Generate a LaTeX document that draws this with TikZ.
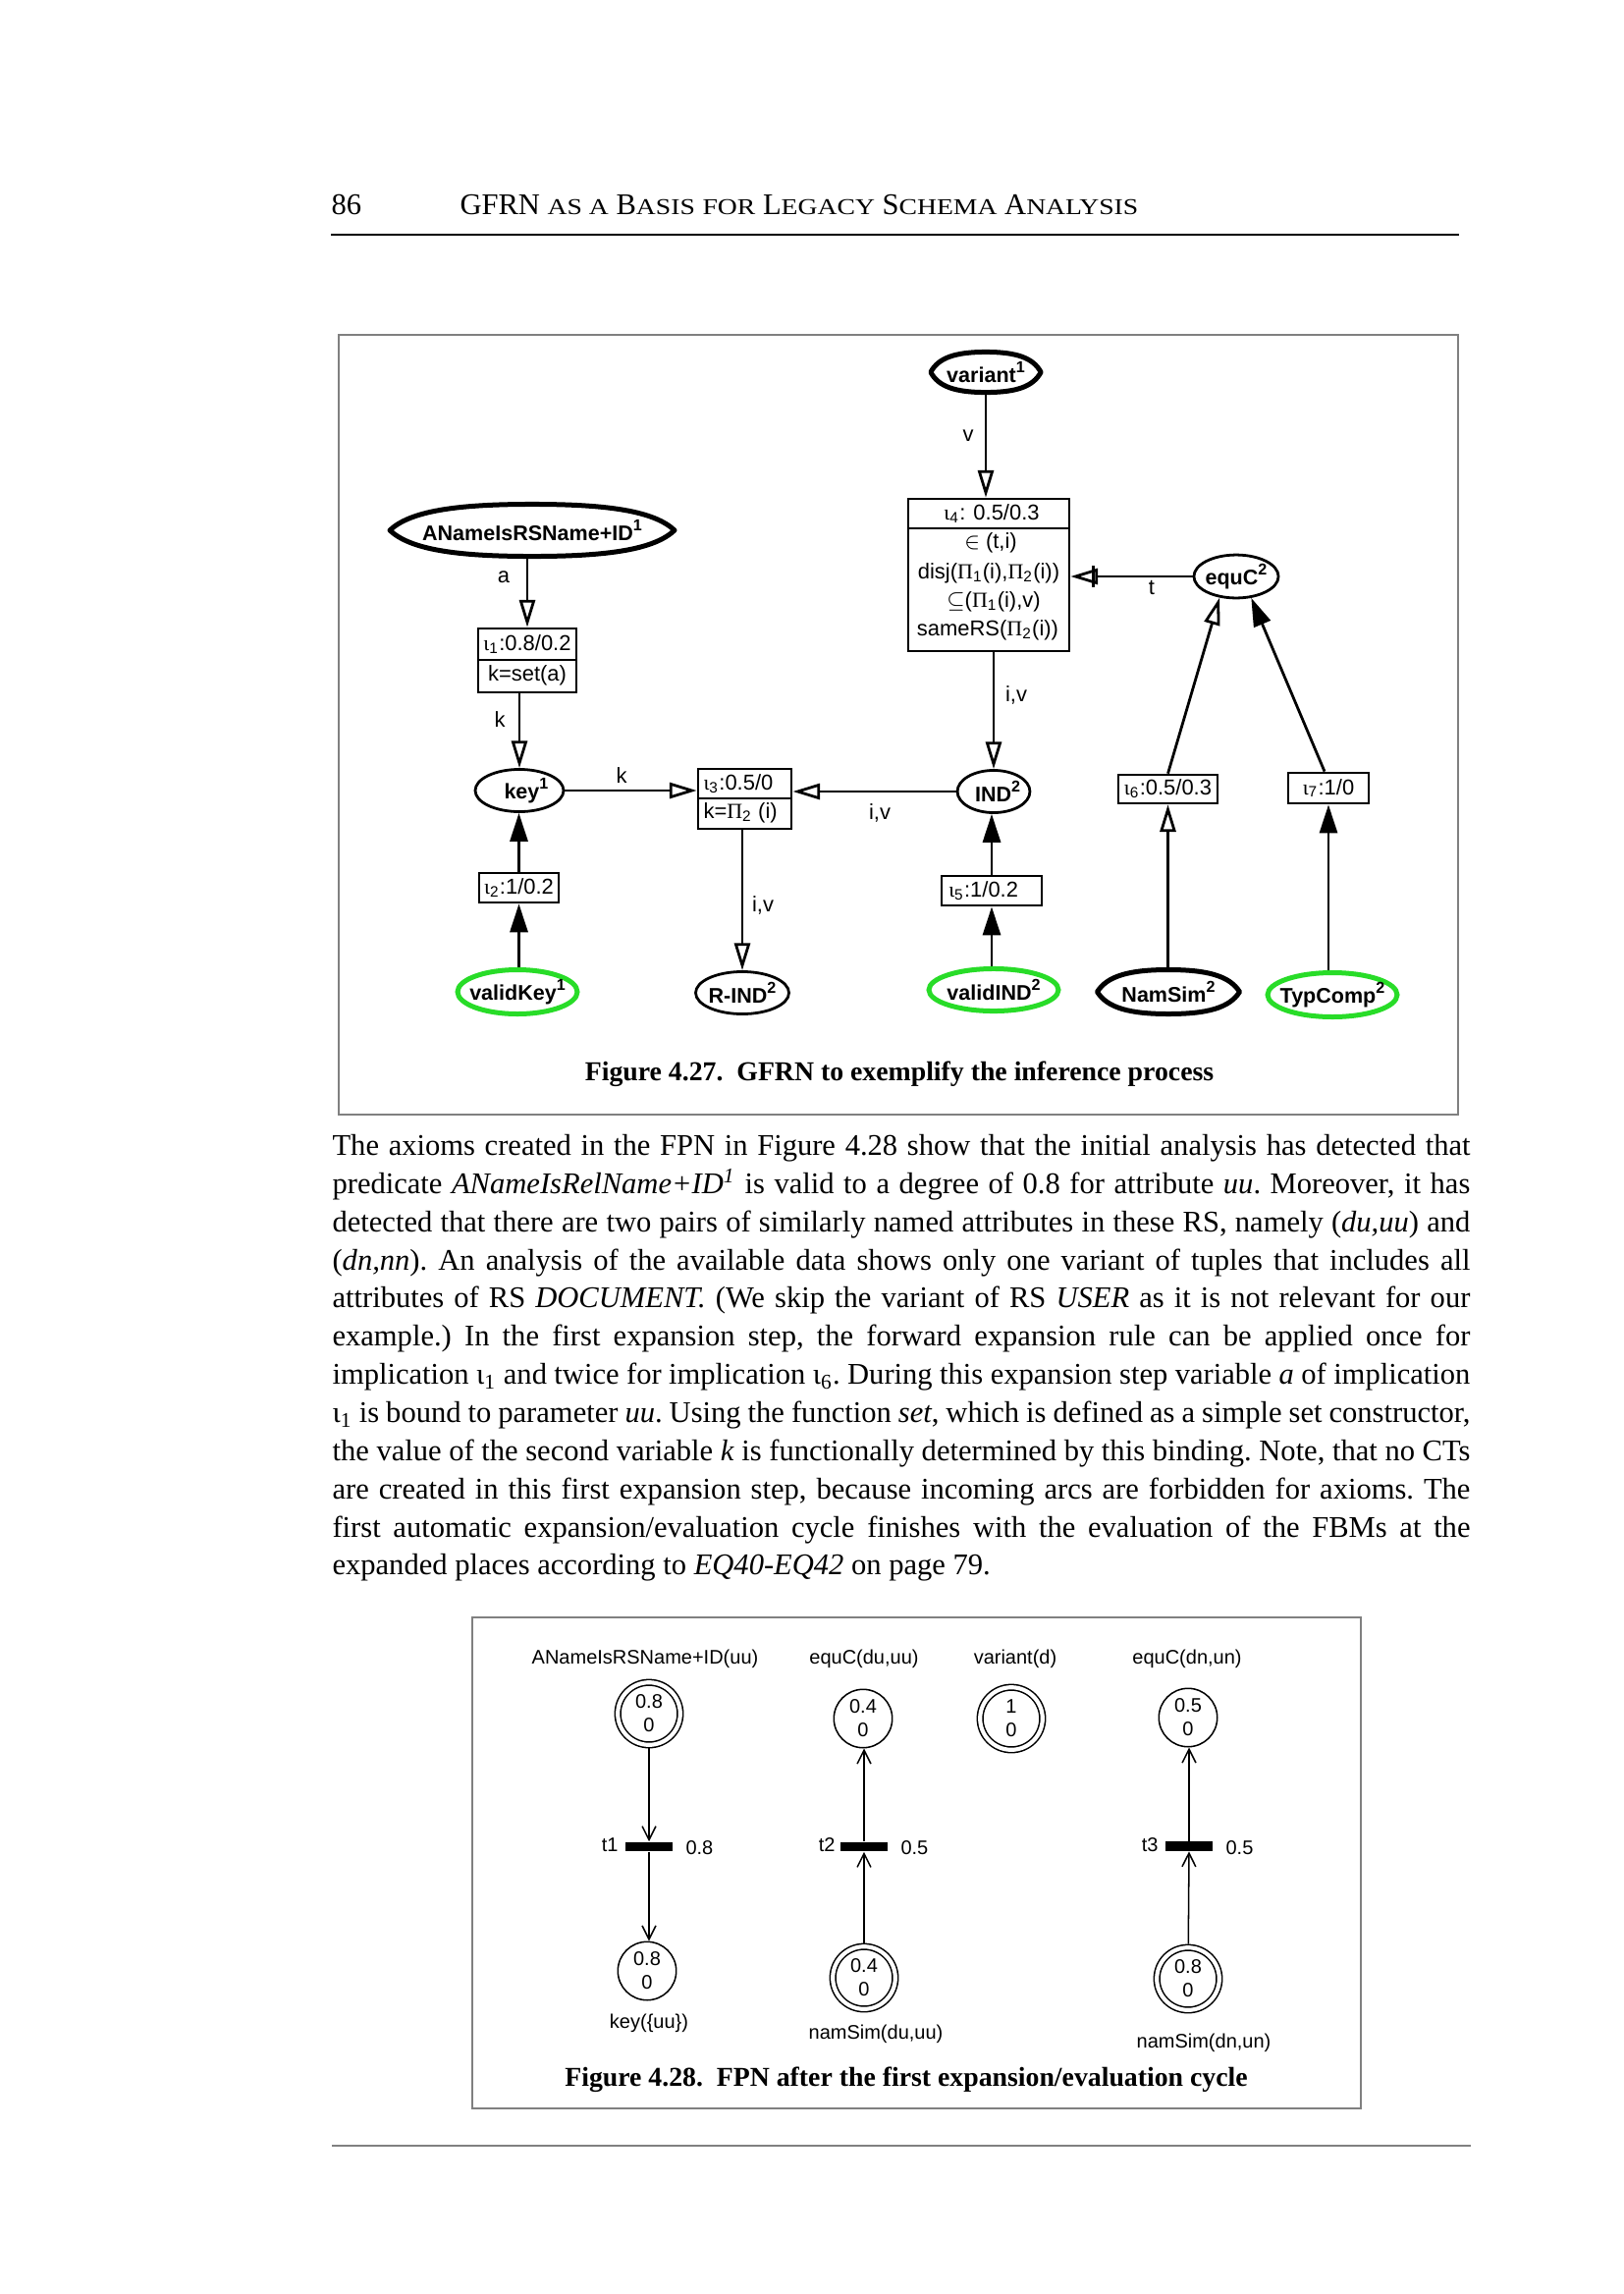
\documentclass[tikz,border=0pt]{standalone}
\usepackage{fontspec}
\setmainfont{Liberation Serif}
\newfontfamily\hv{Liberation Sans}
\newfontfamily\grk{Liberation Serif}
\newfontfamily\scf[FakeStretch=1.2]{Liberation Serif}
\usetikzlibrary{arrows.meta,calc,shapes.geometric}
\definecolor{frgray}{RGB}{128,128,128}
\definecolor{lime}{RGB}{40,220,40}
\newcommand\sm[1]{{\scf\fontsize{8.3}{10}\selectfont #1}}
\newcommand\io[1]{{\grk ι}\textsubscript{#1}}
\newcommand\Pio{{\grk Π}}
\newcommand\nsup[1]{\raisebox{0.85ex}{\fontsize{5.8}{6}\selectfont #1}}
\newcommand\axiomoutline[1]{%
 \draw[axline] let \p1=(#1.center), \p2=(#1.east), \p3=(#1.north), \n1={\x2-\x1}, \n2={\y3-\y1} in
 ({\x1-\n1},\y1) .. controls ({\x1-0.86*\n1},{\y1+0.72*\n2}) and ({\x1-0.55*\n1},{\y1+\n2}) .. (\x1,{\y1+\n2})
 .. controls ({\x1+0.55*\n1},{\y1+\n2}) and ({\x1+0.86*\n1},{\y1+0.72*\n2}) .. ({\x1+\n1},\y1)
 .. controls ({\x1+0.86*\n1},{\y1-0.72*\n2}) and ({\x1+0.55*\n1},{\y1-\n2}) .. (\x1,{\y1-\n2})
 .. controls ({\x1-0.55*\n1},{\y1-\n2}) and ({\x1-0.86*\n1},{\y1-0.72*\n2}) .. ({\x1-\n1},\y1) -- cycle;}
\tikzset{
 dtext/.style={font=\hv\fontsize{7.9}{10.7}\selectfont, inner sep=0pt},
 dbold/.style={font=\hv\bfseries\fontsize{7.75}{10.7}\selectfont},
 ibox/.style={draw, line width=1pt, rectangle, inner sep=0pt, dtext},
 divider/.style={line width=0.7pt},
 place/.style={ellipse, draw, line width=1pt, inner sep=0pt, dbold},
 axiom/.style={ellipse, draw=none, inner sep=0pt, dbold},
 valid/.style={ellipse, draw=lime, line width=1.8pt, inner sep=0pt, dbold},
 axline/.style={line width=1.8pt, line join=round},
 hol/.style={line width=1pt, -{Triangle[open,length=10pt,width=5.8pt]}},
 ful/.style={line width=1pt, -{Triangle[length=10.4pt,width=6.5pt]}},
 ftext/.style={font=\hv\fontsize{7.2}{8.6}\selectfont, inner sep=0pt},
 splace/.style={circle, draw, line width=0.55pt, minimum size=21.4pt, inner sep=0pt, align=center, ftext},
 dplace/.style={splace, double, double distance=1.5pt, minimum size=22.9pt, outer sep=1.3pt},
 trans/.style={rectangle, fill=black, minimum width=17.6pt, minimum height=3.4pt, inner sep=0pt},
 fpnarc/.style={line width=0.55pt, -{Straight Barb[length=5pt,width=5pt]}},
 frame/.style={draw=frgray, line width=1pt},
 caption/.style={font=\bfseries\fontsize{10}{12}\selectfont, inner sep=0pt},
 body/.style={anchor=base west, inner sep=0pt, font=\frenchspacing\fontsize{11}{14}\selectfont},
 head/.style={anchor=base west, inner sep=0pt, font=\fontsize{11}{13}\selectfont}
}
\begin{document}
\begin{tikzpicture}[x=0.36pt,y=-0.36pt]
\useasboundingbox (0,0) rectangle (1653,2336);
\fill[white] (0,0) rectangle (1653,2336);

% ---------- running head ----------
\node[head] (pgno) at (337,218.5) {86};
\node[head] (runhead) at (468,218.5) {GFRN \sm{AS A} B\sm{ASIS} \sm{FOR} L\sm{EGACY} S\sm{CHEMA} A\sm{NALYSIS}};
\coordinate (hrA) at (337,239);
\coordinate (hrB) at (1486,239);
\draw[line width=0.75pt] (hrA) -- (hrB);

% ---------- Figure 4.27 ----------
\draw[frame] (345,341) rectangle (1485,1135);

% axioms (thick outlines)
\node[axiom, minimum width=104pt, minimum height=18.7pt] (an) at (542,540) {\makebox[0pt]{ANameIsRSName+ID\nsup{1}}};
\axiomoutline{an}
\node[axiom, minimum width=40pt, minimum height=14.4pt] (variant) at (1004,379) {\makebox[0pt]{variant\nsup{1}}};
\axiomoutline{variant}
\node[axiom, minimum width=51.8pt, minimum height=15.8pt] (namsim) at (1190,1010) {\makebox[0pt]{NamSim\nsup{2}}};
\axiomoutline{namsim}

% ordinary places
\node[place, minimum width=32.4pt, minimum height=15.5pt] (key) at (529,805) {\makebox[0pt]{\hspace*{5pt}key\nsup{1}}};
\node[place, minimum width=26.6pt, minimum height=15.5pt] (ind) at (1012,806) {\makebox[0pt]{\hspace*{3pt}IND\nsup{2}}};
\node[place, minimum width=31pt, minimum height=15.8pt] (equc) at (1259,587) {\makebox[0pt]{equC\nsup{2}}};
\node[place, minimum width=34.2pt, minimum height=15.5pt] (rind) at (756,1011) {\makebox[0pt]{R-IND\nsup{2}}};

% green places
\node[valid, minimum width=43.9pt, minimum height=16.2pt] (vkey) at (527,1010) {\makebox[0pt]{validKey\nsup{1}}};
\node[valid, minimum width=47.5pt, minimum height=15.5pt] (vind) at (1012,1008) {\makebox[0pt]{validIND\nsup{2}}};
\node[valid, minimum width=47.5pt, minimum height=16.2pt] (typ) at (1357,1013) {\makebox[0pt]{TypComp\nsup{2}}};

% implication boxes
\node[ibox, minimum width=59pt, minimum height=55.8pt] (i4) at (1007,585.5) {};
\coordinate (d4) at (1007,538);
\draw[divider] (i4.west |- d4) -- (i4.east |- d4);
\node[dtext] (i4a) at (1010,523) {\io{4}: 0.5/0.3};
\node[dtext] (i4b) at (1009,553) {$\in$ (t,i)};
\node[dtext] (i4c) at (1007,584) {disj(\Pio\textsubscript{1}(i),\Pio\textsubscript{2}(i))};
\node[dtext] (i4d) at (1012,613) {$\subseteq$(\Pio\textsubscript{1}(i),v)};
\node[dtext] (i4e) at (1006,642) {sameRS(\Pio\textsubscript{2}(i))};

\node[ibox, minimum width=36pt, minimum height=23.4pt] (i1) at (537,672.5) {};
\coordinate (d1) at (537,672);
\draw[divider] (i1.west |- d1) -- (i1.east |- d1);
\node[dtext] (i1a) at (537,656) {\io{1}:0.8/0.2};
\node[dtext] (i1b) at (537,688) {k=set(a)};

\node[ibox, minimum width=34.2pt, minimum height=22pt] (i3) at (758.5,813.5) {};
\coordinate (d3) at (758,813);
\draw[divider] (i3.west |- d3) -- (i3.east |- d3);
\node[dtext, anchor=west] (i3a) at (716,798) {\io{3}:0.5/0};
\node[dtext, anchor=west] (i3b) at (716,828) {k=\Pio\textsubscript{2} (i)};

\node[ibox, minimum width=29.2pt, minimum height=10.8pt] (i2) at (528.5,904) {\io{2}:1/0.2};
\node[ibox, minimum width=36.7pt, minimum height=10.8pt] (i5) at (1010,907) {\io{5}:1/0.2\hspace*{6pt}};
\node[ibox, minimum width=36.4pt, minimum height=10.4pt] (i6) at (1189.5,803.5) {\io{6}:0.5/0.3};
\node[ibox, minimum width=29.5pt, minimum height=11.2pt] (i7) at (1353,802.5) {\io{7}:1/0};

% connectors
\draw[hol] (variant.south) -- (variant.south |- i4.north);
\draw[hol] (i1.north |- an.south) -- (i1.north);
\draw[hol] (key.north |- i1.south) -- (key.north);
\draw[hol] (key.east) -- (key.east -| i3.west);
\draw[hol] (ind.west) -- (ind.west -| i3.east);
\draw[hol] (rind.north |- i3.south) -- (rind.north);
\draw[hol] (ind.north |- i4.south) -- (ind.north);
\draw[hol] (equc.west) -- (equc.west -| i4.east);
\coordinate (barc) at ($(equc.west -| i4.east)+(23,0)$);
\draw[line width=1pt] ($(barc)+(0,-11)$) -- ($(barc)+(0,11)$);
\draw[ful] (i2.south |- vkey.north) -- (i2.south);
\draw[ful] (i2.north) -- (i2.north |- key.south);
\draw[ful] (i5.south |- vind.north) -- (i5.south);
\draw[ful] (i5.north) -- (i5.north |- ind.south);
\draw[hol] (i6.south |- namsim.north) -- (i6.south);
\draw[hol] (i6.north) -- (equc.232);
\draw[ful] (i7.south |- typ.north) -- (i7.south);
\coordinate (i7top) at ($(i7.north)+(-4,0)$);
\draw[ful] (i7top) -- (equc.305);

% arc labels
\node[dtext] (lv) at (986,444) {v};
\node[dtext] (la) at (513,588) {a};
\node[dtext] (lk1) at (509,733) {k};
\node[dtext] (lk2) at (633,790) {k};
\node[dtext] (liv1) at (896,828) {i,v};
\node[dtext] (liv2) at (777,922) {i,v};
\node[dtext] (liv3) at (1035,708) {i,v};
\node[dtext] (lt) at (1173,598) {t};

\node[caption] (cap27) at (916,1093.5) {Figure 4.27.\enspace GFRN to exemplify the inference process};

% ---------- body text ----------
\node[body] (l1) at (338,1176.5) {\makebox[417.2pt][s]{The axioms created in the FPN in Figure 4.28 show that the initial analysis has detected that}};
\node[body] (l2) at (338,1215.35) {\makebox[417.2pt][s]{predicate \textit{ANameIsRelName+ID}\textsuperscript{\textit{1}} is valid to a degree of 0.8 for attribute \textit{uu}. Moreover, it has}};
\node[body] (l3) at (338,1254.2) {\makebox[417.2pt][s]{detected that there are two pairs of similarly named attributes in these RS, namely (\textit{du,uu}) and}};
\node[body] (l4) at (338,1293.05) {\makebox[417.2pt][s]{(\textit{dn,nn}). An analysis of the available data shows only one variant of tuples that includes all}};
\node[body] (l5) at (338,1331.9) {\makebox[417.2pt][s]{attributes of RS \textit{DOCUMENT.} (We skip the variant of RS \textit{USER} as it is not relevant for our}};
\node[body] (l6) at (338,1370.75) {\makebox[417.2pt][s]{example.) In the first expansion step, the forward expansion rule can be applied once for}};
\node[body] (l7) at (338,1409.6) {\makebox[417.2pt][s]{implication ι\textsubscript{1} and twice for implication ι\textsubscript{6}. During this expansion step variable \textit{a} of implication}};
\node[body] (l8) at (338,1448.45) {\makebox[417.2pt][s]{ι\textsubscript{1} is bound to parameter \textit{uu}. Using the function \textit{set}, which is defined as a simple set constructor,}};
\node[body] (l9) at (338,1487.3) {\makebox[417.2pt][s]{the value of the second variable \textit{k} is functionally determined by this binding. Note, that no CTs}};
\node[body] (l10) at (338,1526.15) {\makebox[417.2pt][s]{are created in this first expansion step, because incoming arcs are forbidden for axioms. The}};
\node[body] (l11) at (338,1565) {\makebox[417.2pt][s]{first automatic expansion/evaluation cycle finishes with the evaluation of the FBMs at the}};
\node[body] (l12) at (338,1603.85) {expanded places according to \textit{EQ40-EQ42} on page 79.};

% ---------- Figure 4.28 ----------
\draw[frame] (481,1647) rectangle (1386,2147);

\node[ftext] (n1) at (657,1689) {ANameIsRSName+ID(uu)};
\node[ftext] (n2) at (880,1689) {equC(du,uu)};
\node[ftext] (n3) at (1034,1689) {variant(d)};
\node[ftext] (n4) at (1209,1689) {equC(dn,un)};

\node[dplace] (p1) at (661,1745) {0.8\\0};
\node[splace] (p2) at (879,1750) {0.4\\0};
\node[dplace] (p3) at (1030,1750) {1\\0};
\node[splace] (p4) at (1210,1749) {0.5\\0};
\node[splace] (p5) at (659,2007) {0.8\\0};
\node[dplace] (p6) at (880,2014) {0.4\\0};
\node[dplace] (p7) at (1210,2015) {0.8\\0};

\node[trans] (t1) at (661,1880.5) {};
\node[trans] (t2) at (880,1880.5) {};
\node[trans] (t3) at (1211,1880) {};

\node[ftext, anchor=east] (t1l) at (630,1879) {t1};
\node[ftext, anchor=west] (t1v) at (698,1882) {0.8};
\node[ftext, anchor=east] (t2l) at (851,1879) {t2};
\node[ftext, anchor=west] (t2v) at (917,1882) {0.5};
\node[ftext, anchor=east] (t3l) at (1180,1879) {t3};
\node[ftext, anchor=west] (t3v) at (1248,1882) {0.5};

\node[ftext] (b1) at (661,2060) {key(\{uu\})};
\node[ftext] (b2) at (892,2071) {namSim(du,uu)};
\node[ftext] (b3) at (1226,2080) {namSim(dn,un)};

\draw[fpnarc] (p1) -- (t1.north);
\draw[fpnarc] (t1.south) -- (t1.south |- p5.north);
\draw[fpnarc] (p6) -- (t2.south);
\draw[fpnarc] (t2.north) -- (t2.north |- p2.south);
\draw[fpnarc] (p7) -- (t3.south);
\draw[fpnarc] (t3.north) -- (t3.north |- p4.south);

\node[caption] (cap28) at (923,2117.5) {Figure 4.28.\enspace FPN after the first expansion/evaluation cycle};

% bottom rule
\coordinate (brA) at (338,2185);
\coordinate (brB) at (1498,2185);
\draw[frgray, line width=0.5pt] (brA) -- (brB);
\end{tikzpicture}
\end{document}
